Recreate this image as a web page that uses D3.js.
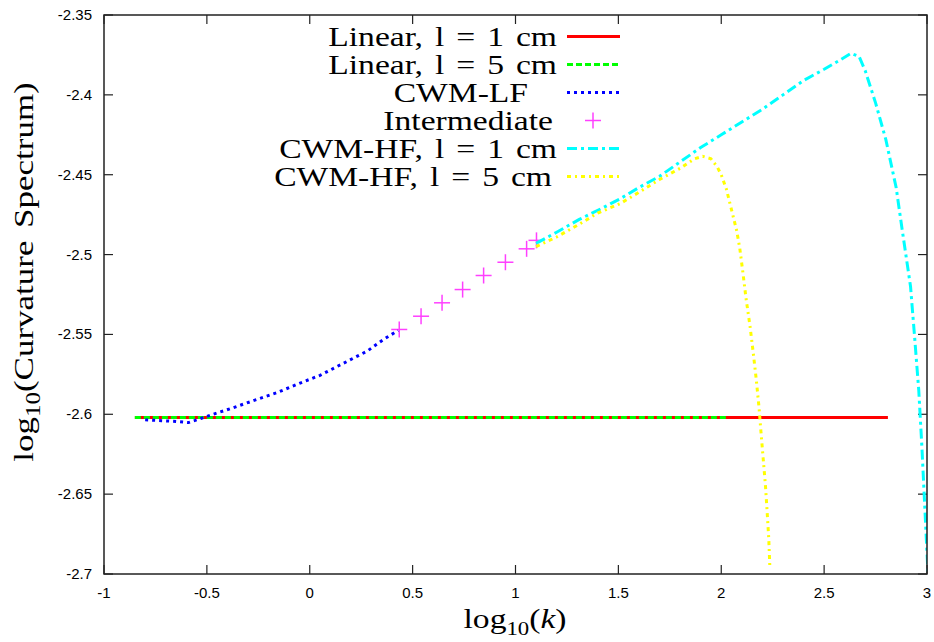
<!DOCTYPE html>
<html lang="en">
<head>
<meta charset="utf-8">
<title>Curvature spectrum</title>
<script src="https://d3js.org/d3.v7.min.js"></script>
<style>
  body { margin: 0; background: #fff; }
  .tick-label { font-family: "Liberation Sans", Arial, sans-serif; font-size: 15px; fill: #000; }
  .serif { font-family: "Liberation Serif", "Times New Roman", serif; font-size: 28px; fill: #000; word-spacing: 3px; }
</style>
</head>
<body>
<script>

var w = 934;
var h = 642;

// ---- data ----
var xTicks = [-1, -0.5, 0, 0.5, 1, 1.5, 2, 2.5, 3];
var xTickLabels = ["-1", "-0.5", "0", "0.5", "1", "1.5", "2", "2.5", "3"];
var yTicks = [-2.7, -2.65, -2.6, -2.55, -2.5, -2.45, -2.4, -2.35];
var yTickLabels = ["-2.7", "-2.65", "-2.6", "-2.55", "-2.5", "-2.45", "-2.4", "-2.35"];

var linear1X = [-0.85, 2.81];
var linear1Y = [-2.602, -2.602];

var linear5X = [-0.85, 2.035];
var linear5Y = [-2.602, -2.602];

var lfX = [-0.80, -0.72, -0.65, -0.59, -0.53, -0.47, -0.37, -0.27, -0.16, -0.05, 0.05, 0.16, 0.28, 0.36, 0.43];
var lfY = [-2.6035, -2.604, -2.6045, -2.6052, -2.6027, -2.600, -2.5958, -2.5913, -2.5865, -2.5806, -2.5756, -2.5683, -2.5604, -2.553, -2.5475];

var interX = [0.435, 0.541, 0.643, 0.743, 0.845, 0.951, 1.054, 1.102];
var interY = [-2.5469, -2.5386, -2.5302, -2.5219, -2.5131, -2.5048, -2.4964, -2.4911];

var hf1X = [1.10, 1.20, 1.31, 1.42, 1.51, 1.60, 1.70, 1.80, 1.90, 2.00, 2.10, 2.20, 2.30, 2.40, 2.50, 2.58, 2.63, 2.67, 2.70, 2.75, 2.80, 2.85, 2.88, 2.92, 2.94, 2.96, 2.975, 2.99, 3.005];
var hf1Y = [-2.493, -2.486, -2.478, -2.471, -2.465, -2.458, -2.451, -2.442, -2.433, -2.425, -2.417, -2.409, -2.400, -2.391, -2.384, -2.378, -2.374, -2.376, -2.385, -2.405, -2.428, -2.458, -2.485, -2.520, -2.552, -2.585, -2.620, -2.660, -2.700];

var hf5X = [1.10, 1.20, 1.31, 1.40, 1.51, 1.60, 1.70, 1.80, 1.87, 1.91, 1.95, 1.98, 2.00, 2.025, 2.05, 2.075, 2.09, 2.105, 2.12, 2.14, 2.155, 2.17, 2.183, 2.193, 2.204, 2.215, 2.223, 2.231, 2.236];
var hf5Y = [-2.495, -2.489, -2.481, -2.474, -2.468, -2.461, -2.453, -2.446, -2.440, -2.4385, -2.440, -2.445, -2.450, -2.459, -2.472, -2.485, -2.496, -2.511, -2.527, -2.545, -2.561, -2.578, -2.595, -2.611, -2.628, -2.645, -2.661, -2.678, -2.695];

var legendLabels = ["Linear, l = 1 cm", "Linear, l = 5 cm", "CWM-LF", "Intermediate", "CWM-HF, l = 1 cm", "CWM-HF, l = 5 cm"];

// ---- layout ----
var pLeft = 104, pRight = 927, pTop = 15, pBottom = 574;
var stretch = 1.2;                                  // serif text is wider in the original
var legendRight = [557, 557, 528, 553, 557, 552];   // right ends of the legend texts

var x = d3.scaleLinear().domain([-1, 3]).range([pLeft, pRight]);
var y = d3.scaleLinear().domain([-2.7, -2.35]).range([pBottom, pTop]);

var svg = d3.select("body")
    .append("svg")
    .attr("width", w)
    .attr("height", h);

svg.append("defs").append("clipPath")
    .attr("id", "plot-clip")
    .append("rect")
    .attr("x", pLeft).attr("y", pTop)
    .attr("width", pRight - pLeft).attr("height", pBottom - pTop);

// ticks (inward, mirrored)
var tickLen = 9;
var ticks = svg.append("g").attr("stroke", "#222").attr("stroke-width", 1.2);
xTicks.forEach(function (t) {
    ticks.append("line").attr("x1", x(t)).attr("x2", x(t)).attr("y1", pBottom).attr("y2", pBottom - tickLen);
    ticks.append("line").attr("x1", x(t)).attr("x2", x(t)).attr("y1", pTop).attr("y2", pTop + tickLen);
});
yTicks.forEach(function (t) {
    ticks.append("line").attr("x1", pLeft).attr("x2", pLeft + tickLen).attr("y1", y(t)).attr("y2", y(t));
    ticks.append("line").attr("x1", pRight).attr("x2", pRight - tickLen).attr("y1", y(t)).attr("y2", y(t));
});

svg.selectAll("text.xt")
    .data(xTicks)
    .enter()
    .append("text")
    .attr("class", "tick-label xt")
    .attr("x", function (d) { return x(d); })
    .attr("y", 598)
    .attr("text-anchor", "middle")
    .text(function (d, i) { return xTickLabels[i]; });

svg.selectAll("text.yt")
    .data(yTicks)
    .enter()
    .append("text")
    .attr("class", "tick-label yt")
    .attr("x", 92)
    .attr("y", function (d) { return y(d) + 5; })
    .attr("text-anchor", "end")
    .text(function (d, i) { return yTickLabels[i]; });

// axis titles
var xl = svg.append("text")
    .attr("class", "serif")
    .attr("transform", "translate(515,628) scale(" + stretch + ",1)")
    .attr("text-anchor", "middle");
xl.append("tspan").text("log");
xl.append("tspan").attr("font-size", "19px").attr("dy", 7).text("10");
xl.append("tspan").attr("dy", -7).text("(");
xl.append("tspan").attr("font-style", "italic").text("k");
xl.append("tspan").text(")");

var yl = svg.append("text")
    .attr("class", "serif")
    .attr("font-size", "30px")
    .attr("transform", "translate(33,272) rotate(-90) scale(1.25,1)")
    .attr("text-anchor", "middle");
yl.append("tspan").text("log");
yl.append("tspan").attr("font-size", "20px").attr("dy", 7).text("10");
yl.append("tspan").attr("dy", -7).text("(Curvature Spectrum)");

// series
var plot = svg.append("g").attr("clip-path", "url(#plot-clip)");

function pts(xs, ys) {
    return xs.map(function (v, i) { return [v, ys[i]]; });
}

var line = d3.line()
    .x(function (d) { return x(d[0]); })
    .y(function (d) { return y(d[1]); });

var series = [
    { data: pts(linear1X, linear1Y), color: "#ff0000", dash: null },
    { data: pts(linear5X, linear5Y), color: "#00ff00", dash: "6,3" },
    { data: pts(lfX, lfY), color: "#0000ff", dash: "3,4" },
    { data: null, color: "#ff00ff" },
    { data: pts(hf1X, hf1Y), color: "#00ffff", dash: "10,4,3,4" },
    { data: pts(hf5X, hf5Y), color: "#ffff00", dash: "4,4,2,4" }
];

function plus(g, cx, cy, r) {
    g.append("line").attr("x1", cx - r).attr("x2", cx + r).attr("y1", cy).attr("y2", cy);
    g.append("line").attr("x1", cx).attr("x2", cx).attr("y1", cy - r).attr("y2", cy + r);
}

series.forEach(function (s) {
    if (s.data) {
        plot.append("path")
            .attr("d", line(s.data))
            .attr("fill", "none")
            .attr("stroke", s.color)
            .attr("stroke-width", 3)
            .attr("stroke-dasharray", s.dash);
    } else {
        var mg = plot.append("g").attr("stroke", s.color).attr("stroke-width", 1.5).attr("opacity", 0.75);
        pts(interX, interY).forEach(function (d) { plus(mg, x(d[0]), y(d[1]), 8); });
    }
});

// frame
svg.append("rect")
    .attr("x", pLeft).attr("y", pTop)
    .attr("width", pRight - pLeft).attr("height", pBottom - pTop)
    .attr("fill", "none")
    .attr("stroke", "#222")
    .attr("stroke-width", 1.5);

// legend
var legend = svg.append("g");
var ly0 = 36.5, lstep = 28;
legendLabels.forEach(function (lab, i) {
    var ly = ly0 + i * lstep;
    legend.append("text")
        .attr("class", "serif")
        .attr("transform", "translate(" + legendRight[i] + "," + (ly + 9) + ") scale(" + stretch + ",1)")
        .attr("text-anchor", "end")
        .text(lab);
    var s = series[i];
    if (s.data) {
        legend.append("line")
            .attr("x1", 567).attr("x2", 620)
            .attr("y1", ly).attr("y2", ly)
            .attr("stroke", s.color)
            .attr("stroke-width", 3)
            .attr("stroke-dasharray", s.dash);
    } else {
        var lg = legend.append("g").attr("stroke", s.color).attr("stroke-width", 1.5).attr("opacity", 0.75);
        plus(lg, 593, ly, 8);
    }
});

</script>
</body>
</html>
